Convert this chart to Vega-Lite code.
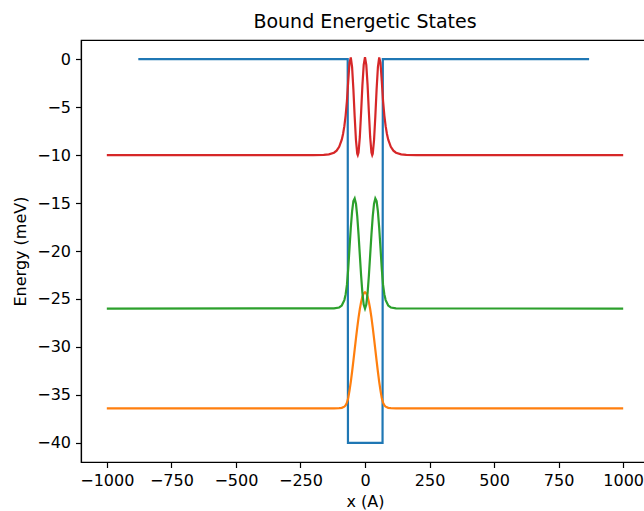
{
  "$schema": "https://vega.github.io/schema/vega-lite/v6.json",
  "width": 568,
  "height": 422,
  "autosize": {"type": "none"},
  "padding": {"left": 81, "top": 40, "right": 0, "bottom": 49},
  "background": "white",
  "title": {"text": "Bound Energetic States", "font": "DejaVu Sans", "fontSize": 19, "fontWeight": "normal", "color": "black", "anchor": "middle", "offset": 8},
  "config": {
    "view": {"stroke": "black", "strokeWidth": 1.2},
    "axis": {"domainColor": "black", "tickColor": "black", "labelColor": "black", "titleColor": "black", "labelFont": "DejaVu Sans", "titleFont": "DejaVu Sans", "labelFontSize": 16, "titleFontSize": 16, "titleFontWeight": "normal", "grid": false, "tickSize": 5.5, "tickWidth": 1.2, "domainWidth": 1.2, "labelPadding": 5}
  },
  "datasets": {
    "potential": [
      {"x": -878, "y": 0}, {"x": -67, "y": 0}, {"x": -66, "y": -40}, {"x": 68, "y": -40}, {"x": 69, "y": 0}, {"x": 868, "y": 0}
    ],
    "state1": [
      {"x": -1000, "y": -36.4}, {"x": -120, "y": -36.4}, {"x": -100, "y": -36.386}, {"x": -90, "y": -36.351}, {"x": -80, "y": -36.232}, {"x": -75, "y": -36.088}, {"x": -70, "y": -35.819}, {"x": -65, "y": -35.32}, {"x": -60, "y": -34.558}, {"x": -55, "y": -33.637}, {"x": -50, "y": -32.59}, {"x": -45, "y": -31.457}, {"x": -40, "y": -30.285}, {"x": -35, "y": -29.112}, {"x": -30, "y": -27.989}, {"x": -25, "y": -26.955}, {"x": -20, "y": -26.049}, {"x": -15, "y": -25.306}, {"x": -10, "y": -24.754}, {"x": -5, "y": -24.415},
      {"x": 0, "y": -24.3},
      {"x": 5, "y": -24.415}, {"x": 10, "y": -24.754}, {"x": 15, "y": -25.306}, {"x": 20, "y": -26.049}, {"x": 25, "y": -26.955}, {"x": 30, "y": -27.989}, {"x": 35, "y": -29.112}, {"x": 40, "y": -30.285}, {"x": 45, "y": -31.457}, {"x": 50, "y": -32.59}, {"x": 55, "y": -33.637}, {"x": 60, "y": -34.558}, {"x": 65, "y": -35.32}, {"x": 70, "y": -35.819}, {"x": 75, "y": -36.088}, {"x": 80, "y": -36.232}, {"x": 90, "y": -36.351}, {"x": 100, "y": -36.386}, {"x": 120, "y": -36.4}, {"x": 1000, "y": -36.4}
    ],
    "state2": [
      {"x": -1000, "y": -26}, {"x": -120, "y": -25.986}, {"x": -100, "y": -25.888}, {"x": -90, "y": -25.686}, {"x": -80, "y": -25.12}, {"x": -75, "y": -24.527}, {"x": -70, "y": -23.534}, {"x": -65, "y": -21.873}, {"x": -60, "y": -19.687}, {"x": -55, "y": -17.58}, {"x": -50, "y": -15.868}, {"x": -45, "y": -14.788}, {"x": -40, "y": -14.513}, {"x": -35, "y": -15.069}, {"x": -30, "y": -16.391}, {"x": -25, "y": -18.262}, {"x": -20, "y": -20.437}, {"x": -15, "y": -22.58}, {"x": -10, "y": -24.382}, {"x": -5, "y": -25.58},
      {"x": 0, "y": -26},
      {"x": 5, "y": -25.58}, {"x": 10, "y": -24.382}, {"x": 15, "y": -22.58}, {"x": 20, "y": -20.437}, {"x": 25, "y": -18.262}, {"x": 30, "y": -16.391}, {"x": 35, "y": -15.069}, {"x": 40, "y": -14.513}, {"x": 45, "y": -14.788}, {"x": 50, "y": -15.868}, {"x": 55, "y": -17.58}, {"x": 60, "y": -19.687}, {"x": 65, "y": -21.873}, {"x": 70, "y": -23.534}, {"x": 75, "y": -24.527}, {"x": 80, "y": -25.12}, {"x": 90, "y": -25.686}, {"x": 100, "y": -25.888}, {"x": 120, "y": -25.986}, {"x": 1000, "y": -26}
    ],
    "state3": [
      {"x": -1000, "y": -10}, {"x": -200, "y": -10}, {"x": -160, "y": -9.98}, {"x": -140, "y": -9.929}, {"x": -120, "y": -9.753}, {"x": -110, "y": -9.539}, {"x": -100, "y": -9.138}, {"x": -90, "y": -8.388}, {"x": -85, "y": -7.795}, {"x": -80, "y": -6.985}, {"x": -75, "y": -5.876}, {"x": -70, "y": -4.361}, {"x": -65, "y": -2.288}, {"x": -60, "y": -0.356}, {"x": -55, "y": 0.179}, {"x": -50, "y": -0.814}, {"x": -45, "y": -3.12}, {"x": -40, "y": -5.973}, {"x": -35, "y": -8.455}, {"x": -30, "y": -9.858}, {"x": -28, "y": -10}, {"x": -25, "y": -9.731}, {"x": -20, "y": -8.11}, {"x": -15, "y": -5.501}, {"x": -10, "y": -2.705}, {"x": -5, "y": -0.587},
      {"x": 0, "y": 0.2},
      {"x": 5, "y": -0.587}, {"x": 10, "y": -2.705}, {"x": 15, "y": -5.501}, {"x": 20, "y": -8.11}, {"x": 25, "y": -9.731}, {"x": 28, "y": -10}, {"x": 30, "y": -9.858}, {"x": 35, "y": -8.455}, {"x": 40, "y": -5.973}, {"x": 45, "y": -3.12}, {"x": 50, "y": -0.814}, {"x": 55, "y": 0.179}, {"x": 60, "y": -0.356}, {"x": 65, "y": -2.288}, {"x": 70, "y": -4.361}, {"x": 75, "y": -5.876}, {"x": 80, "y": -6.985}, {"x": 85, "y": -7.795}, {"x": 90, "y": -8.388}, {"x": 100, "y": -9.138}, {"x": 110, "y": -9.539}, {"x": 120, "y": -9.753}, {"x": 140, "y": -9.929}, {"x": 160, "y": -9.98}, {"x": 200, "y": -10}, {"x": 1000, "y": -10}
    ]
  },
  "encoding": {
    "x": {"field": "x", "type": "quantitative", "scale": {"domain": [-1100, 1100], "nice": false, "zero": false},
      "axis": {"title": "x (A)", "values": [-1000, -750, -500, -250, 0, 250, 500, 750, 1000], "format": "d", "titlePadding": 5}},
    "y": {"field": "y", "type": "quantitative", "scale": {"domain": [-42, 2], "nice": false, "zero": false},
      "axis": {"title": "Energy (meV)", "values": [-40, -35, -30, -25, -20, -15, -10, -5, 0], "format": "d", "titlePadding": 8}}
  },
  "layer": [
    {"data": {"name": "potential"}, "mark": {"type": "line", "color": "#1f77b4", "strokeWidth": 2.2, "clip": true}},
    {"data": {"name": "state1"}, "mark": {"type": "line", "color": "#ff7f0e", "strokeWidth": 2.2, "clip": true}},
    {"data": {"name": "state2"}, "mark": {"type": "line", "color": "#2ca02c", "strokeWidth": 2.2, "clip": true}},
    {"data": {"name": "state3"}, "mark": {"type": "line", "color": "#d62728", "strokeWidth": 2.2, "clip": true}}
  ]
}
